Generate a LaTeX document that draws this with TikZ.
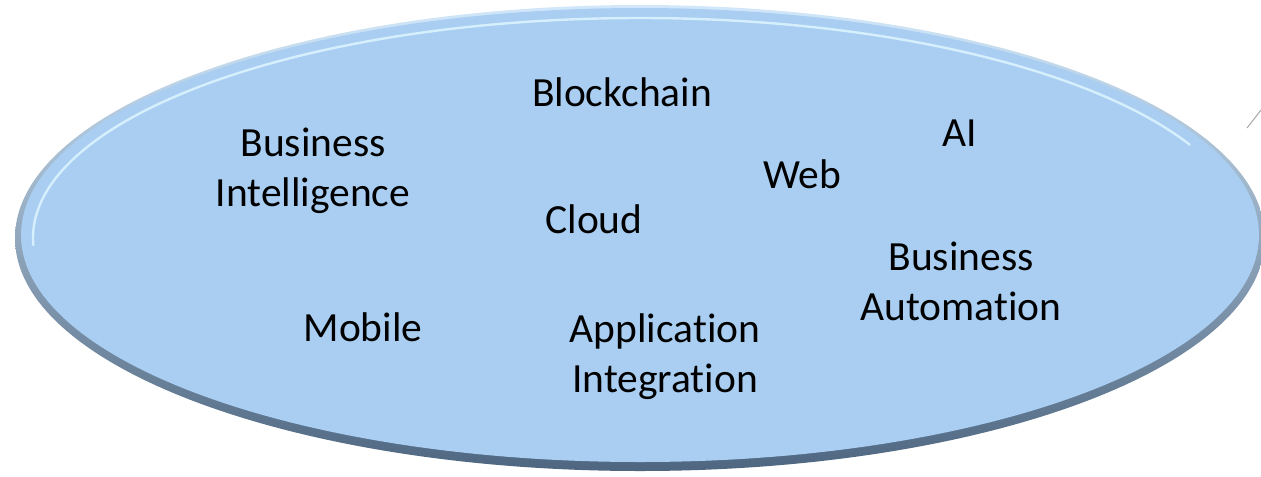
\documentclass[tikz,border=0pt]{standalone}
\usepackage{fontspec}
\setmainfont[Ligatures=NoCommon]{Carlito}
\definecolor{ovalfill}{HTML}{A9CEF2}
\definecolor{rimdark}{HTML}{4E6680}
\definecolor{rimlight}{HTML}{D2E8FA}
\definecolor{glint}{HTML}{E2F8FF}
\begin{document}
\begin{tikzpicture}
    [x=0.5pt,y=-0.5pt,
    topic/.style={anchor=base,align=center,inner sep=0pt,font=\fontsize{20.75}{25}\selectfont},
    rim/.style={top color=rimlight,bottom color=rimdark}]

    %\draw[help lines] (0,0) grid[step=100] (1261,476);
    \useasboundingbox (0,0) rectangle (1261,476);
    \shade[rim] (640,238) ellipse [x radius=625,y radius=233];
    \fill[ovalfill] (640,235) ellipse [x radius=619,y radius=227];
    \draw[glint,line width=1.2pt,opacity=0.8] (640,238) ++(178:607 and 220)
          arc[start angle=178,end angle=335,x radius=607,y radius=220];
    \draw[gray!70,line width=0.5pt] (1247,128) -- (1261,110);

    % base anchor of a two-line node sits on its last line
    \node[topic] (bi) at (313,206) {Business\\Intelligence};
    \node[topic] (chain) at (622,106) {Blockchain};
    \node[topic] (ai) at (960,146) {AI};
    \node[topic] (web) at (802,188) {Web};
    \node[topic] (cloud) at (594,233) {Cloud};
    \node[topic] (ba) at (961,320) {Business\\Automation};
    \node[topic] (mobile) at (363,341) {Mobile};
    \node[topic] (appint) at (665,392) {Application\\Integration};
\end{tikzpicture}
\end{document}
